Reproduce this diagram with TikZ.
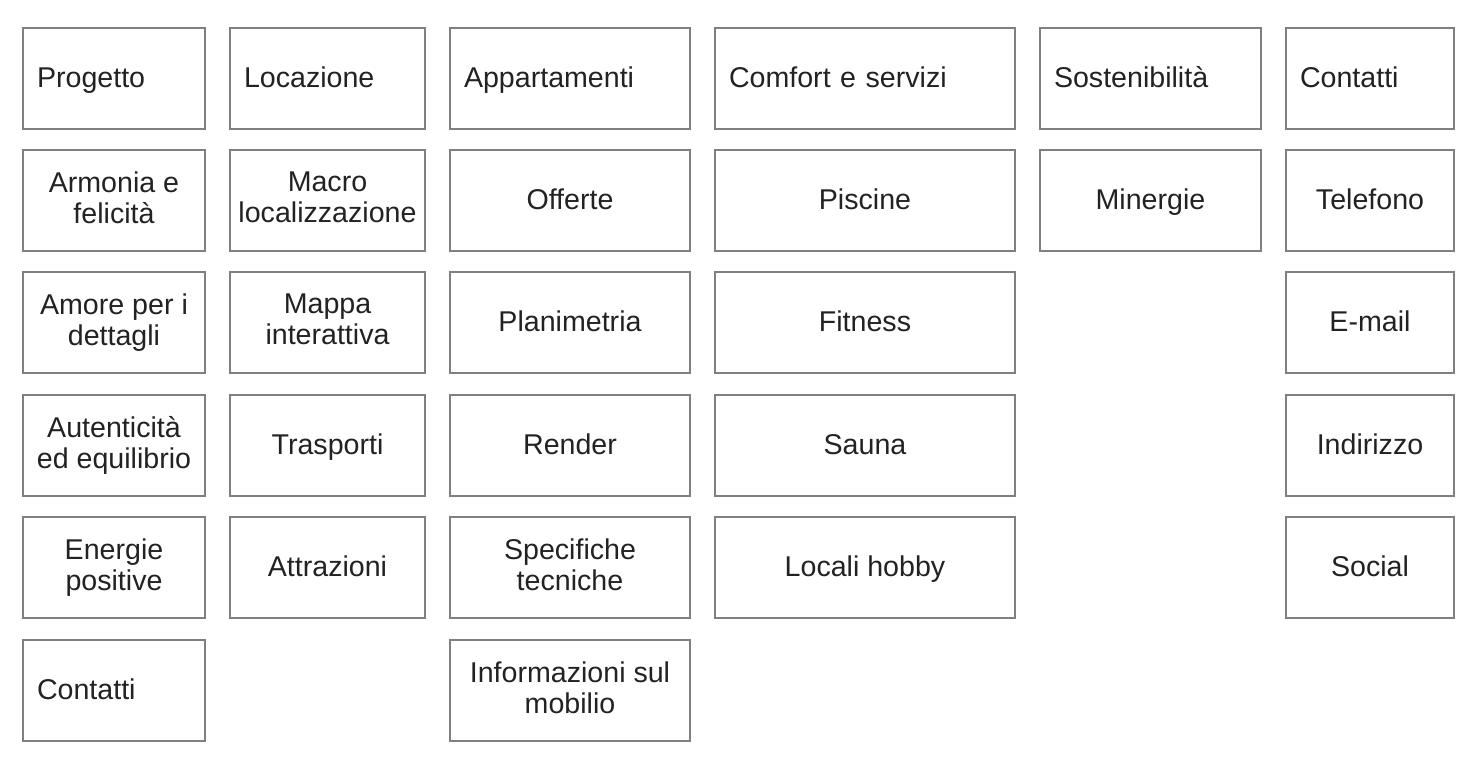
\documentclass[tikz,border=0pt]{standalone}
\usepackage{fontspec}
\setmainfont{Liberation Sans}
\usepackage{tikz}

\definecolor{boxgray}{HTML}{808080}
\definecolor{textdark}{HTML}{222222}

\tikzset{
  cell/.style={draw=boxgray, line width=0.6pt, text=textdark, minimum width=#1,
    minimum height=50.5pt, inner sep=0pt, align=center,
    font=\fontsize{14.3}{15.5}\selectfont,
    execute at begin node={\rule{0pt}{12pt}},
    execute at end node={\rule[-3.3pt]{0pt}{3.3pt}}},
  head/.style={cell=0pt, text width=#1, align=left, inner xsep=7pt}
}

\begin{document}
\begin{tikzpicture}[x=0.5pt, y=-0.5pt]
  \useasboundingbox (0,0) rectangle (1474,757);
  % Progetto
  \node[head=77pt] (prog) at (114,78.5) {Progetto};
  \node[cell=91pt] (armonia) at (114,200.5) {Armonia e\\felicità};
  \node[cell=91pt] (amore) at (114,322.5) {Amore per i\\dettagli};
  \node[cell=91pt] (autent) at (114,445.5) {Autenticità\\ed equilibrio};
  \node[cell=91pt] (energie) at (114,567.5) {Energie\\positive};
  \node[head=77pt] (progcont) at (114,690.5) {Contatti};
  % Locazione
  \node[head=83.5pt] (loc) at (327.5,78.5) {Locazione};
  \node[cell=97.5pt] (macro) at (327.5,200.5) {Macro\\localizzazione};
  \node[cell=97.5pt] (mappa) at (327.5,322.5) {Mappa\\interattiva};
  \node[cell=97.5pt] (trasp) at (327.5,445.5) {Trasporti};
  \node[cell=97.5pt] (attr) at (327.5,567.5) {Attrazioni};
  % Appartamenti
  \node[head=106pt] (app) at (570,78.5) {Appartamenti};
  \node[cell=120pt] (offerte) at (570,200.5) {Offerte};
  \node[cell=120pt] (plan) at (570,322.5) {Planimetria};
  \node[cell=120pt] (render) at (570,445.5) {Render};
  \node[cell=120pt] (spec) at (570,567.5) {Specifiche\\tecniche};
  \node[cell=120pt] (mobilio) at (570,690.5) {Informazioni sul\\mobilio};
  % Comfort e servizi
  \node[head=136pt] (comfort) at (865,78.5) {Comfort e servizi};
  \node[cell=150pt] (piscine) at (865,200.5) {Piscine};
  \node[cell=150pt] (fitness) at (865,322.5) {Fitness};
  \node[cell=150pt] (sauna) at (865,445.5) {Sauna};
  \node[cell=150pt] (hobby) at (865,567.5) {Locali hobby};
  % Sostenibilita
  \node[head=96.5pt] (sost) at (1150.5,78.5) {Sostenibilità};
  \node[cell=110.5pt] (minergie) at (1150.5,200.5) {Minergie};
  % Contatti
  \node[head=70pt] (cont) at (1370,78.5) {Contatti};
  \node[cell=84pt] (tel) at (1370,200.5) {Telefono};
  \node[cell=84pt] (email) at (1370,322.5) {E-mail};
  \node[cell=84pt] (indir) at (1370,445.5) {Indirizzo};
  \node[cell=84pt] (social) at (1370,567.5) {Social};
\end{tikzpicture}
\end{document}
